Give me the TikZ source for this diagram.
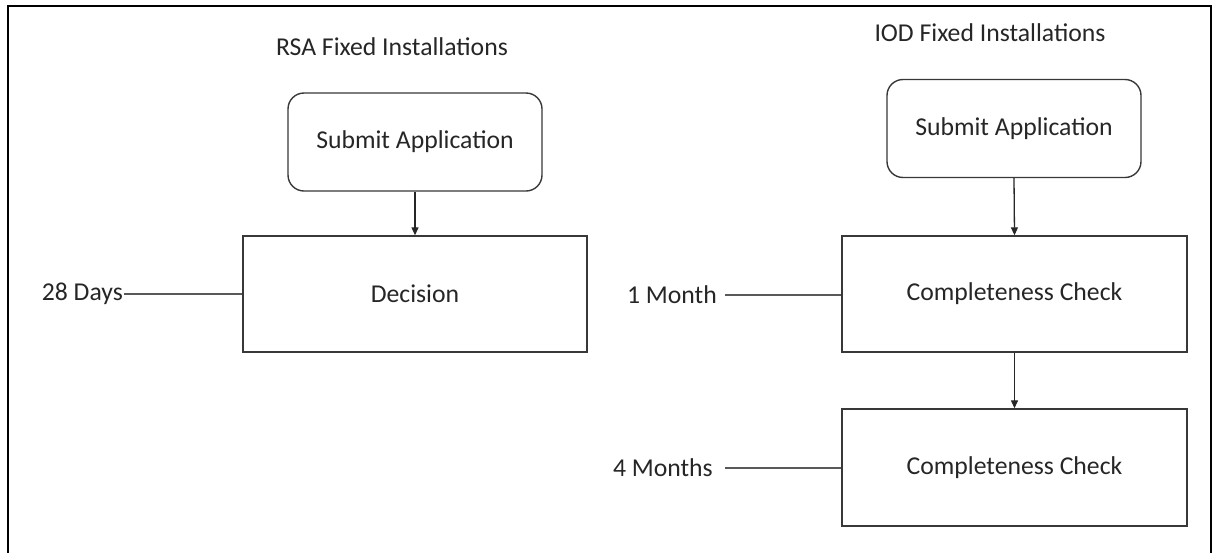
\documentclass[tikz,border=0pt]{standalone}
\usepackage{fontspec}
\setmainfont{Carlito}
\usetikzlibrary{arrows.meta}
\begin{document}
\begin{tikzpicture}[x=1pt,y=-1pt,
  txt/.style={font=\fontsize{25.7pt}{30pt}\selectfont, text=black!85, inner sep=0pt},
  roundbox/.style={txt, draw=black!78, line width=1.4pt, rounded corners=16pt,
    minimum width=254pt, minimum height=98pt},
  sqbox/.style={txt, draw=black!78, line width=1.4pt,
    minimum width=345pt, minimum height=116pt},
  arr/.style={draw=black!85, line width=1.3pt, -{Triangle[length=8pt,width=7pt]}},
  lbl/.style={draw=black!65, line width=1.4pt}
]
\useasboundingbox (0,0) rectangle (1218,552);
\draw[line width=2.4pt] (8,556) -- (8,6) -- (1211,6) -- (1211,556);

\node[txt] (t1) at (392,47) {RSA Fixed Installations};
\node[txt] (t2) at (990,33) {IOD Fixed Installations};

\node[roundbox] (s1) at (415,142) {Submit Application};
\node[sqbox, minimum width=344pt] (d1) at (415,294) {Decision};

\node[roundbox] (s2) at (1014,128.5) {Submit Application};
\node[sqbox] (c1) at (1014.5,294) {Completeness Check};
\node[sqbox, minimum height=117pt] (c2) at (1014.5,467.5) {Completeness Check};

\node[txt, anchor=east] (l1) at (123,294) {28 Days};
\node[txt, anchor=east] (l2) at (717,295) {1 Month};
\node[txt, anchor=east] (l3) at (713,468) {4 Months};

\draw[arr] (s1.south) -- (d1.north);
\draw[arr] (s2.south) -- (c1.north);
\draw[arr] (c1.south) -- (c2.north);

\draw[lbl] ([xshift=1pt]l1.east) -- (l1.east -| d1.west);
\draw[lbl] ([xshift=8pt]l2.east) -- (l2.east -| c1.west);
\draw[lbl] ([xshift=12pt]l3.east) -- (l3.east -| c2.west);
\end{tikzpicture}
\end{document}
